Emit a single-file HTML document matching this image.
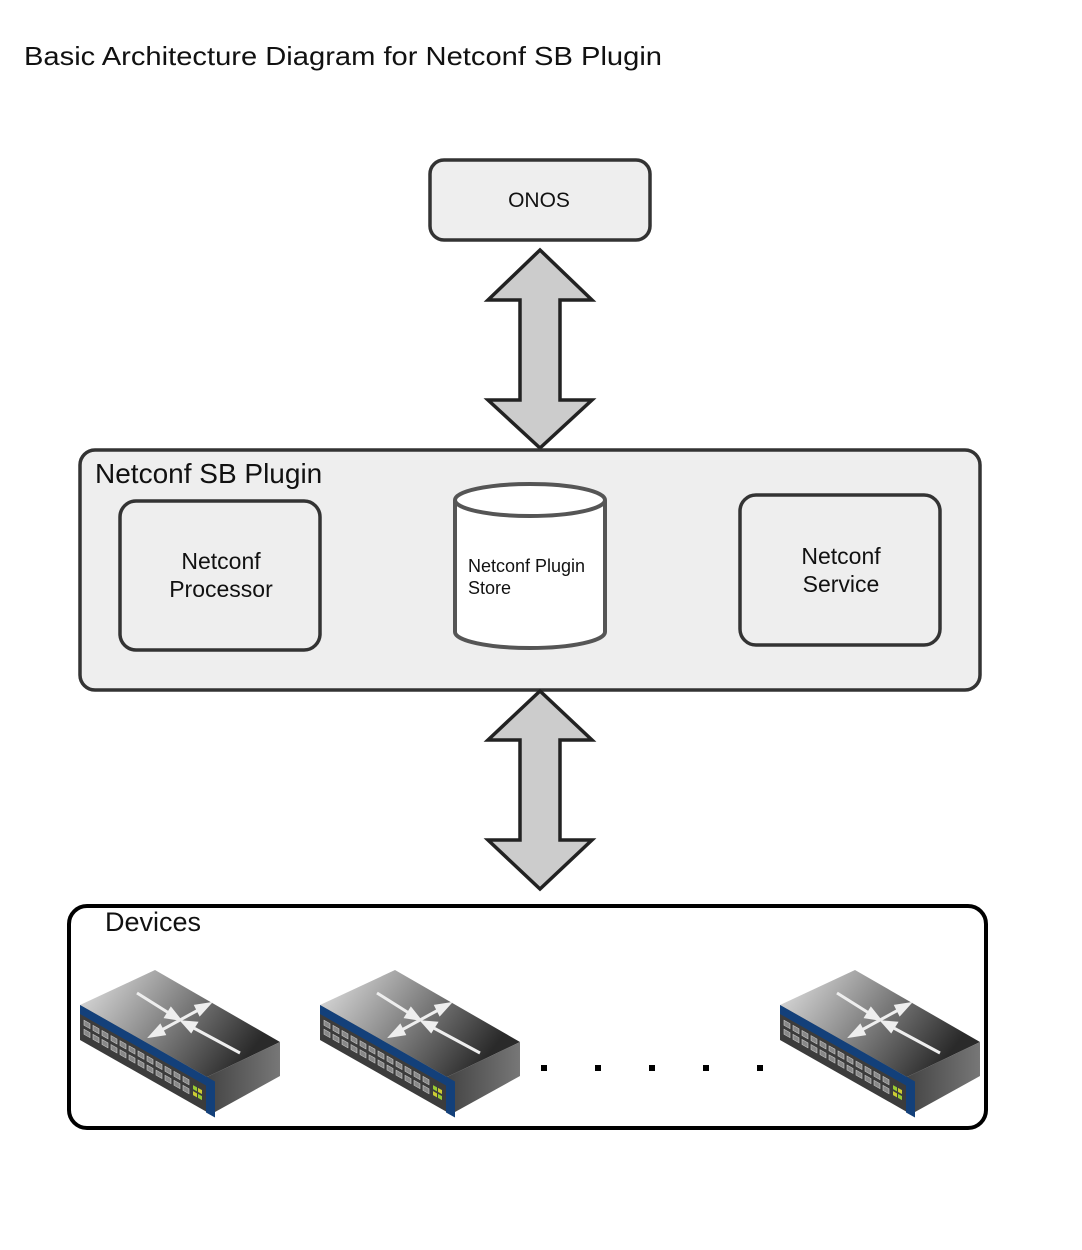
<!DOCTYPE html>
<html><head><meta charset="utf-8"><style>
html,body{margin:0;padding:0;background:#fff;width:1082px;height:1250px;overflow:hidden}
svg{display:block}
text{font-family:"Liberation Sans",Arial,sans-serif;fill:#111}
</style></head><body>
<svg width="1082" height="1250" viewBox="0 0 1082 1250" xmlns="http://www.w3.org/2000/svg">
<defs>
<linearGradient id="top" x1="0" y1="0" x2="1" y2="0.4">
<stop offset="0" stop-color="#e6e6e6"/><stop offset="0.5" stop-color="#888"/><stop offset="1" stop-color="#2a2a2a"/>
</linearGradient>
<linearGradient id="side" x1="0" y1="0" x2="1" y2="0">
<stop offset="0" stop-color="#444"/><stop offset="1" stop-color="#777"/>
</linearGradient>
<g id="sw">
<polygon points="0,35 75,0 200,72 127,107" fill="url(#top)"/>
<polygon points="127,107 200,72 200,106 135,142" fill="url(#side)"/>
<g transform="matrix(1,0.567,0,1,0,35)">
<rect x="0" y="0" width="128" height="35" fill="#3c3c3c"/>
<rect x="0" y="0" width="128" height="9" fill="#13407a"/>
<rect x="126" y="0" width="9" height="36" fill="#13407a"/>
<g fill="#888" stroke="#ccc" stroke-width="0.6">
<rect x="4" y="13" width="6" height="5"/><rect x="13" y="13" width="6" height="5"/><rect x="22" y="13" width="6" height="5"/><rect x="31" y="13" width="6" height="5"/><rect x="40" y="13" width="6" height="5"/><rect x="49" y="13" width="6" height="5"/><rect x="58" y="13" width="6" height="5"/><rect x="67" y="13" width="6" height="5"/><rect x="76" y="13" width="6" height="5"/><rect x="85" y="13" width="6" height="5"/><rect x="94" y="13" width="6" height="5"/><rect x="103" y="13" width="6" height="5"/>
<rect x="4" y="22" width="6" height="5"/><rect x="13" y="22" width="6" height="5"/><rect x="22" y="22" width="6" height="5"/><rect x="31" y="22" width="6" height="5"/><rect x="40" y="22" width="6" height="5"/><rect x="49" y="22" width="6" height="5"/><rect x="58" y="22" width="6" height="5"/><rect x="67" y="22" width="6" height="5"/><rect x="76" y="22" width="6" height="5"/><rect x="85" y="22" width="6" height="5"/><rect x="94" y="22" width="6" height="5"/><rect x="103" y="22" width="6" height="5"/>
</g>
<rect x="113" y="16" width="4" height="4" fill="#9c3"/><rect x="118" y="16" width="4" height="4" fill="#cc3"/>
<rect x="113" y="22" width="4" height="4" fill="#cc3"/><rect x="118" y="22" width="4" height="4" fill="#9c3"/>
</g>
<g stroke="#eee" stroke-width="3" fill="#eee">
<line x1="57" y1="23" x2="92" y2="45"/><polygon points="99,49 86,47 91,39"/>
<line x1="160" y1="83" x2="110" y2="56"/><polygon points="103,52 116,53 111,61"/>
<line x1="78" y1="62" x2="122" y2="38"/><polygon points="71,66 80,56 84,64" /><polygon points="129,34 120,44 116,36"/>
</g>
</g>
</defs>

<text x="24" y="65" font-size="26" textLength="638" lengthAdjust="spacingAndGlyphs">Basic Architecture Diagram for Netconf SB Plugin</text>

<rect x="430" y="160" width="220" height="80" rx="14" fill="#eee" stroke="#333" stroke-width="3.5"/>
<text x="539" y="207" font-size="21" text-anchor="middle">ONOS</text>

<polygon points="540,250 592,300 560,300 560,400 592,400 540,448 488,400 520,400 520,300 488,300" fill="#ccc" stroke="#222" stroke-width="3.5" stroke-linejoin="miter"/>

<rect x="80" y="450" width="900" height="240" rx="15" fill="#eee" stroke="#333" stroke-width="3.5"/>
<text x="95" y="483" font-size="28">Netconf SB Plugin</text>

<rect x="120" y="501" width="200" height="149" rx="16" fill="#eee" stroke="#333" stroke-width="3.5"/>
<text x="221" y="569" font-size="23" text-anchor="middle">Netconf</text>
<text x="221" y="597" font-size="23" text-anchor="middle">Processor</text>

<path d="M455,500 L455,632 A75,16 0 0 0 605,632 L605,500" fill="#fff" stroke="#555" stroke-width="4"/>
<ellipse cx="530" cy="500" rx="75" ry="16" fill="#fff" stroke="#555" stroke-width="4"/>
<text x="468" y="572" font-size="18">Netconf Plugin</text>
<text x="468" y="594" font-size="18">Store</text>

<rect x="740" y="495" width="200" height="150" rx="16" fill="#eee" stroke="#333" stroke-width="3.5"/>
<text x="841" y="564" font-size="23" text-anchor="middle">Netconf</text>
<text x="841" y="592" font-size="23" text-anchor="middle">Service</text>

<polygon points="540,691 592,740 560,740 560,840 592,840 540,889 488,840 520,840 520,740 488,740" fill="#ccc" stroke="#222" stroke-width="3.5"/>

<rect x="69" y="906" width="917" height="222" rx="18" fill="#fff" stroke="#000" stroke-width="4"/>
<text x="105" y="931" font-size="27">Devices</text>

<use href="#sw" x="80" y="970"/>
<use href="#sw" x="320" y="970"/>
<use href="#sw" x="780" y="970"/>

<g fill="#000">
<rect x="541" y="1065" width="6" height="6"/><rect x="595" y="1065" width="6" height="6"/><rect x="649" y="1065" width="6" height="6"/><rect x="703" y="1065" width="6" height="6"/><rect x="757" y="1065" width="6" height="6"/>
</g>
</svg>
</body></html>
